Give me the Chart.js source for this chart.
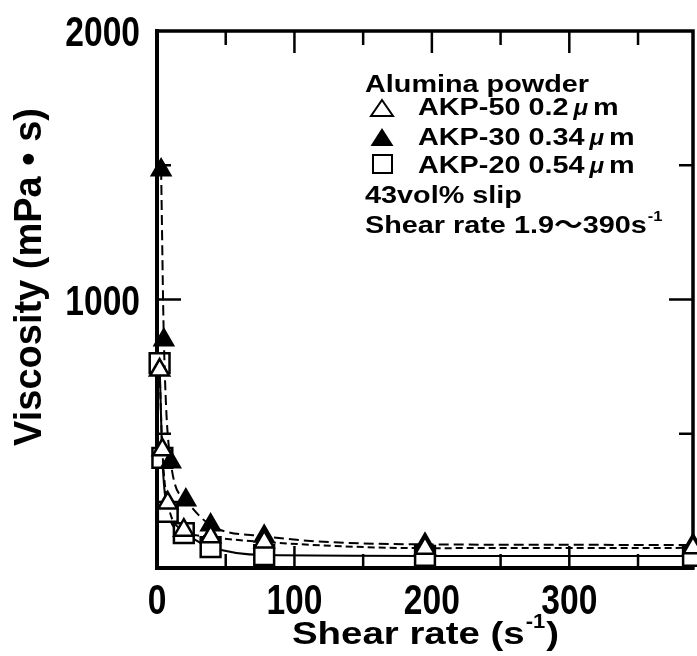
<!DOCTYPE html>
<html>
<head>
<meta charset="utf-8">
<script src="https://cdn.jsdelivr.net/npm/chart.js@4.4.1/dist/chart.umd.min.js"></script>
<style>
  body { margin: 0; background: #fff; }
  canvas { display: block; }
</style>
</head>
<body>
<canvas id="myChart" width="697" height="656"></canvas>
<script>
// shear rate steps (s-1) and viscosity (mPa.s)
const shearRate = [1.9, 3.9, 7.8, 19.5, 39, 78, 195, 390];
const akp50Visc = [737, 440, 242, 141, 116, 97, 74, 75];
const akp30Rate = [3, 5, 10, 21, 39, 78, 195, 390];
const akp30Visc = [1482, 849, 395, 253, 160, 118, 88, 86];
const akp20Visc = [763, 410, 209, 130, 78, 48, 45, 45];
const xLabels = [0, 100, 200, 300];
const yLabels = [1000, 2000];

const textFont = "'Liberation Sans', Arial, 'Noto Sans CJK JP', sans-serif";

const pts = (xs, ys) => xs.map((v, i) => ({ x: v, y: ys[i] }));

function txt(ctx, s, x, y, font, sx, align) {
    ctx.save();
    ctx.font = font;
    ctx.translate(x, y);
    ctx.scale(sx, 1);
    ctx.textAlign = align || 'left';
    ctx.textBaseline = 'alphabetic';
    ctx.fillText(s, 0, 0);
    const w = ctx.measureText(s).width * sx;
    ctx.restore();
    return w;
}

function tri(ctx, x, y, w, h, filled) {
    ctx.beginPath();
    ctx.moveTo(x, y - h / 2);
    ctx.lineTo(x + w / 2, y + h / 2);
    ctx.lineTo(x - w / 2, y + h / 2);
    ctx.closePath();
    if (filled) ctx.fill(); else ctx.stroke();
}

const frame = {
    id: 'frame',
    beforeDatasetsDraw(chart) {
        const { ctx, chartArea: a, scales: { x, y } } = chart;
        ctx.save();
        ctx.strokeStyle = '#000';
        ctx.fillStyle = '#000';
        ctx.lineWidth = 2.5;
        const seg = (x1, y1, x2, y2) => { ctx.beginPath(); ctx.moveTo(x1, y1); ctx.lineTo(x2, y2); ctx.stroke(); };
        x.ticks.forEach(t => {
            if (t.value <= 0 || t.value >= x.max || t.value % 50) return;
            const px = x.getPixelForValue(t.value);
            const len = t.value % 100 === 0 ? 22 : 14;
            seg(px, a.bottom, px, a.bottom - len);
            seg(px, a.top, px, a.top + len);
        });
        y.ticks.forEach(t => {
            if (t.value <= 0 || t.value >= y.max) return;
            const py = y.getPixelForValue(t.value);
            const len = t.value % 1000 === 0 ? 24 : 14;
            seg(a.left, py, a.left + len, py);
            seg(a.right, py, a.right - len, py);
        });
        ctx.lineWidth = 3.5;
        ctx.strokeRect(a.left, a.top, a.right - a.left, a.bottom - a.top);

        // tick labels, condensed bold digits
        const nf = 'bold 42px ' + textFont;
        x.ticks.forEach(t => {
            if (!xLabels.includes(t.value)) return;
            txt(ctx, String(t.value), x.getPixelForValue(t.value), 614, nf, 0.8, 'center');
        });
        y.ticks.forEach(t => {
            if (!yLabels.includes(t.value)) return;
            txt(ctx, String(t.value), a.left - 17, y.getPixelForValue(t.value) + 15, nf, 0.8, 'right');
        });
        ctx.restore();
    },
    afterDraw(chart) {
        const { ctx } = chart;
        ctx.save();
        ctx.fillStyle = '#000';
        ctx.strokeStyle = '#000';

        // axis titles
        ctx.save();
        ctx.translate(31, 277);
        ctx.rotate(-Math.PI / 2);
        ctx.font = 'bold 38px ' + textFont;
        ctx.textAlign = 'center';
        ctx.textBaseline = 'middle';
        ctx.fillText('Viscosity (mPa • s)', 0, 0);
        ctx.restore();

        const tf = 'bold 32px ' + textFont;
        let xx = 292;
        xx += txt(ctx, 'Shear rate (s', xx, 644, tf, 1.2);
        xx += txt(ctx, '-1', xx + 1, 628, 'bold 20px ' + textFont, 1.1) + 2;
        txt(ctx, ')', xx, 644, tf, 1.2);

        // legend block
        const lf = 'bold 24px ' + textFont;
        const mf = 'italic bold 22px ' + textFont;
        const sx = 1.2;
        txt(ctx, 'Alumina powder', 365, 92, lf, sx);
        const rows = [['AKP-50 0.2', 115], ['AKP-30 0.34', 145], ['AKP-20 0.54', 173]];
        rows.forEach(([s, by]) => {
            let w = txt(ctx, s, 418, by, lf, sx);
            w += txt(ctx, 'μ', 418 + w + 5, by, mf, 1.1);
            txt(ctx, 'm', 418 + w + 10, by, lf, sx);
        });
        ctx.lineWidth = 2;
        tri(ctx, 382, 108, 22, 16, false);
        tri(ctx, 382, 137, 23, 18, true);
        ctx.strokeRect(373, 155, 19, 18);
        txt(ctx, '43vol% slip', 365, 203, lf, sx);
        let w = txt(ctx, 'Shear rate 1.9～390s', 365, 233, lf, sx);
        txt(ctx, '-1', 365 + w + 1, 221, 'bold 15px ' + textFont, 1.1);
        ctx.restore();
    }
};

const ctx = document.getElementById('myChart');

new Chart(ctx, {
    type: 'line',
    data: {
        datasets: [{
            label: 'AKP-50 0.2μm',
            data: pts(shearRate, akp50Visc),
            pointStyle: 'triangle',
            pointRadius: 11,
            pointBackgroundColor: '#fff',
            pointBorderColor: '#000',
            pointBorderWidth: 2.5,
            borderColor: '#000',
            borderWidth: 2,
            borderDash: [7, 4],
            cubicInterpolationMode: 'monotone',
            clip: false
        }, {
            label: 'AKP-30 0.34μm',
            data: pts(akp30Rate, akp30Visc),
            pointStyle: 'triangle',
            pointRadius: 11,
            pointBackgroundColor: '#000',
            pointBorderColor: '#000',
            pointBorderWidth: 2,
            borderColor: '#000',
            borderWidth: 2,
            borderDash: [10, 5],
            cubicInterpolationMode: 'monotone',
            clip: false
        }, {
            label: 'AKP-20 0.54μm',
            data: pts(shearRate, akp20Visc),
            pointStyle: 'rect',
            pointRadius: 14,
            pointBackgroundColor: '#fff',
            pointBorderColor: '#000',
            pointBorderWidth: 2.5,
            borderColor: '#000',
            borderWidth: 2,
            cubicInterpolationMode: 'monotone',
            clip: false
        }]
    },
    options: {
        responsive: false,
        animation: false,
        devicePixelRatio: 1,
        layout: { autoPadding: false, padding: { top: 31, right: 4, left: 0, bottom: 0 } },
        plugins: { legend: { display: false }, tooltip: { enabled: false } },
        scales: {
            x: {
                type: 'linear',
                min: 0,
                max: 390,
                afterFit: s => { s.height = 88; },
                grid: { display: false, drawTicks: false },
                border: { display: true, width: 4, color: '#000' },
                ticks: { stepSize: 50, autoSkip: false, display: false }
            },
            y: {
                min: 0,
                max: 2000,
                afterFit: s => { s.width = 157; },
                grid: { display: false, drawTicks: false },
                border: { display: true, width: 4, color: '#000' },
                ticks: { stepSize: 500, autoSkip: false, display: false }
            }
        }
    },
    plugins: [frame]
});
</script>
</body>
</html>
